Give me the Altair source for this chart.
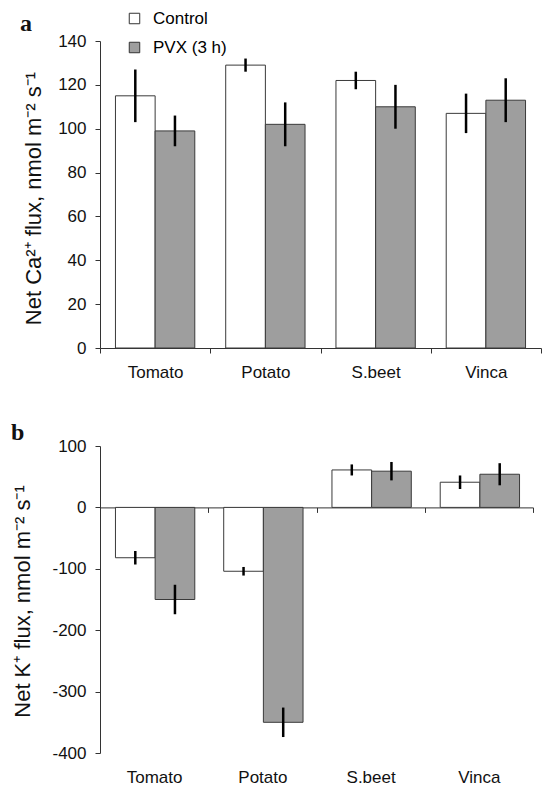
import altair as alt
import pandas as pd

categories = ["Tomato", "Potato", "S.beet", "Vinca"]
groups = ["Control", "PVX (3 h)"]

ca_control = [115, 129, 122, 107]
ca_control_err = [12, 3, 4, 9]
ca_pvx = [99, 102, 110, 113]
ca_pvx_err = [7, 10, 10, 10]

k_control = [-82, -104, 61, 41]
k_control_err = [11, 7, 9, 11]
k_pvx = [-150, -350, 59, 54]
k_pvx_err = [24, 24, 15, 18]

ca_ticks = [0, 20, 40, 60, 80, 100, 120, 140]
k_ticks = [-400, -300, -200, -100, 0, 100]

FONT = "Liberation Sans"
SERIF = "Liberation Serif"
LABEL_EXPR = "datum.value < 0 ? '-' + abs(datum.value) : '' + datum.value"


def frame(ctrl, ctrl_err, pvx, pvx_err):
    rows = []
    for i, c in enumerate(categories):
        rows.append(dict(cat=c, grp=groups[0], val=ctrl[i],
                         lo=ctrl[i] - ctrl_err[i], hi=ctrl[i] + ctrl_err[i]))
        rows.append(dict(cat=c, grp=groups[1], val=pvx[i],
                         lo=pvx[i] - pvx_err[i], hi=pvx[i] + pvx_err[i]))
    return pd.DataFrame(rows)


def panel(df, letter, ytitle, ydomain, yvalues, w, h, offpad, legx, legy,
          xoffset, title_dx, title_dy, ytitle_x, ytitle_y):
    xaxis = alt.Axis(title=None, labelAngle=0, tickBand="extent", domain=True,
                     ticks=True, tickSize=5, labelPadding=11 - xoffset,
                     offset=xoffset, labelFontSize=17, grid=False)
    x = alt.X("cat:N", sort=categories,
              scale=alt.Scale(paddingInner=0, paddingOuter=0), axis=xaxis)
    xo = alt.XOffset("grp:N", sort=groups,
                     scale=alt.Scale(paddingInner=0, paddingOuter=offpad))
    y = alt.Y("val:Q", scale=alt.Scale(domain=ydomain, nice=False, zero=False),
              axis=alt.Axis(values=yvalues, title=ytitle, tickSize=5,
                            labelPadding=9, titleFontSize=22,
                            titleFontWeight="normal", titleX=ytitle_x,
                            titleY=ytitle_y, titleAngle=270,
                            titleBaseline="alphabetic", titleAlign="center",
                            labelFontSize=17, labelExpr=LABEL_EXPR, grid=False))
    color = alt.Color("grp:N", sort=groups,
                      scale=alt.Scale(domain=groups, range=["#ffffff", "#9e9e9e"]),
                      legend=alt.Legend(title=None, orient="none", legendX=legx,
                                        legendY=legy, symbolType="square",
                                        symbolSize=110, symbolStrokeColor="#333333",
                                        symbolStrokeWidth=1, labelFontSize=17,
                                        labelFont=FONT, rowPadding=11,
                                        labelOffset=10, padding=0))
    bars = alt.Chart(df).mark_bar(stroke="#3a3a3a", strokeWidth=1).encode(
        x=x, xOffset=xo, y=y, color=color)
    err = alt.Chart(df).mark_rule(color="black", strokeWidth=2.5).encode(
        x=alt.X("cat:N", sort=categories), xOffset=alt.XOffset("grp:N", sort=groups),
        y="lo:Q", y2="hi:Q")
    return alt.layer(bars, err).properties(
        width=w, height=h,
        title=alt.TitleParams(letter, anchor="start", frame="group", font=SERIF,
                              fontSize=24, fontWeight="bold", dx=title_dx,
                              dy=title_dy, color="#111111"))


df_a = frame(ca_control, ca_control_err, ca_pvx, ca_pvx_err)
df_b = frame(k_control, k_control_err, k_pvx, k_pvx_err)

H = 307
a = panel(df_a, "a", "Net Ca²⁺ flux, nmol m⁻² s⁻¹", [0, 140], ca_ticks,
          441, H, 0.39, 26, -31, 0, -80, 8, -60, 157)
b = panel(df_b, "b", "Net K⁺ flux, nmol m⁻² s⁻¹", [-400, 100], k_ticks,
          433, H, 0.35, 17, -23, -H * 400 / 500, -89, 12, -71, 155)

chart = alt.ConcatChart(concat=[a, b], columns=1, spacing=41, align="none",
                        bounds="full").properties(
    padding={"left": 11, "top": 10, "right": 0, "bottom": 0}
).configure_view(stroke=None).configure_axis(
    domainColor="#333333", tickColor="#333333", labelColor="#111111",
    titleColor="#111111", labelFont=FONT, titleFont=FONT
)

chart.save("out.html", embed_options={"renderer": "svg", "actions": False})
